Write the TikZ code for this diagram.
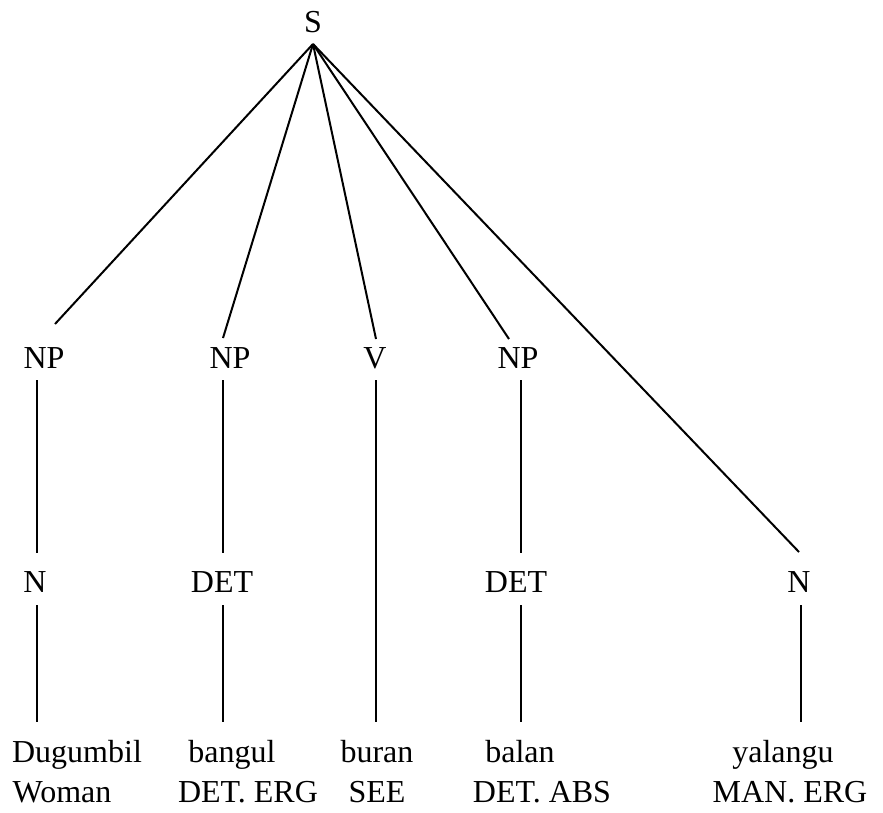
\documentclass[tikz,border=0pt]{standalone}
\usepackage{fontspec}
\setmainfont{Liberation Serif}
\tikzset{
  cat/.style={inner sep=0pt, anchor=base, font=\fontsize{32}{38}\selectfont},
  word/.style={inner sep=0pt, anchor=base, font=\fontsize{32}{38}\selectfont},
  branch/.style={line width=2pt, line cap=butt}
}
\begin{document}
\begin{tikzpicture}[x=1pt, y=-1pt]
\useasboundingbox (0,0) rectangle (883,812);

% category labels
\node[cat] (s)   at (313,32)  {S};
\node[cat] (np1) at (44,368)  {NP};
\node[cat] (np2) at (230,368) {NP};
\node[cat] (v)   at (375,368) {V};
\node[cat] (np3) at (518,368) {NP};
\node[cat] (n1)  at (35,592)  {N};
\node[cat] (det2) at (222,592) {DET};
\node[cat] (det3) at (516,592) {DET};
\node[cat] (n5)  at (799,592) {N};

% words and glosses
\node[word] (w1) at (77,762)  {Dugumbil};
\node[word] (w2) at (232,762) {bangul};
\node[word] (w3) at (377,762) {buran};
\node[word] (w4) at (520,762) {balan};
\node[word] (w5) at (783,762) {yalangu};
\node[word] (g1) at (62,802)  {Woman};
\node[word] (g2) at (248,802) {DET. ERG};
\node[word] (g3) at (377,802) {SEE};
\node[word] (g4) at (542,802) {DET. ABS};
\node[word] (g5) at (790,802) {MAN. ERG};

% branch end points
\coordinate (s-foot)    at (313,44);
\coordinate (np1-top)   at (55,324);
\coordinate (np2-top)   at (223,338);
\coordinate (v-top)     at (376,339);
\coordinate (np3-top)   at (509,339);
\coordinate (n5-top)    at (799,552);
\coordinate (np1-foot)  at (37,380);
\coordinate (np2-foot)  at (223,380);
\coordinate (v-foot)    at (376,380);
\coordinate (np3-foot)  at (521,380);
\coordinate (n1-top)    at (37,553);
\coordinate (det2-top)  at (223,553);
\coordinate (det3-top)  at (521,553);
\coordinate (n1-foot)   at (37,605);
\coordinate (det2-foot) at (223,605);
\coordinate (det3-foot) at (521,605);
\coordinate (n5-foot)   at (801,605);
\coordinate (w1-top)    at (37,722);
\coordinate (w2-top)    at (223,722);
\coordinate (w3-top)    at (376,722);
\coordinate (w4-top)    at (521,722);
\coordinate (w5-top)    at (801,722);

% branches from S
\draw[branch] (s-foot) -- (np1-top);
\draw[branch] (s-foot) -- (np2-top);
\draw[branch] (s-foot) -- (v-top);
\draw[branch] (s-foot) -- (np3-top);
\draw[branch] (s-foot) -- (n5-top);

% phrase to head
\draw[branch] (np1-foot) -- (n1-top);
\draw[branch] (np2-foot) -- (det2-top);
\draw[branch] (np3-foot) -- (det3-top);

% heads to words
\draw[branch] (n1-foot) -- (w1-top);
\draw[branch] (det2-foot) -- (w2-top);
\draw[branch] (v-foot) -- (w3-top);
\draw[branch] (det3-foot) -- (w4-top);
\draw[branch] (n5-foot) -- (w5-top);
\end{tikzpicture}
\end{document}
